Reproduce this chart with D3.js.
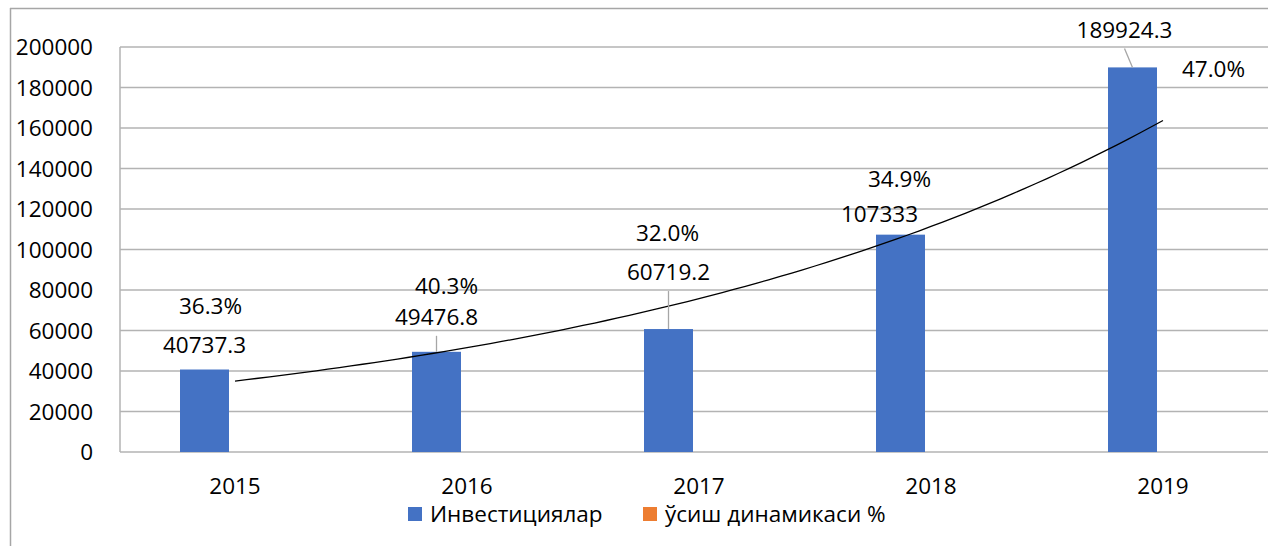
<!DOCTYPE html>
<html>
<head>
<meta charset="utf-8">
<script src="https://cdn.jsdelivr.net/npm/d3@7"></script>
<style>
  body { margin: 0; background: #fff; }
  svg { display: block; font-family: "Open Sans", "Noto Sans", sans-serif; }
  .tick-label, .cat-label, .data-label, .legend-label { font-size: 22.5px; fill: #000; }
</style>
</head>
<body>
<div id="chart"></div>
<script>
/*** DATA ***/
var years = ['2015', '2016', '2017', '2018', '2019'];
var investments = [40737.3, 49476.8, 60719.2, 107333, 189924.3];
var growthPct = [36.3, 40.3, 32.0, 34.9, 47.0];
var yTicks = [0, 20000, 40000, 60000, 80000, 100000, 120000, 140000, 160000, 180000, 200000];
var seriesNames = ['Инвестициялар', 'ўсиш динамикаси %'];
var seriesColors = ['#4472C4', '#ED7D31'];

//manual label placement (px, relative to bar top centre), as moved by hand in the original
var invLabelOffsets = [[0, -25], [0, -35], [0, -57], [-21, -21], [-8, -38]];
var pctLabelOffsets = [[6, -64], [10, -66], [-1, -96], [-1, -56], [81, 1]];

var width = 1268, height = 546;
var plot = {left: 119, right: 1279, top: 47, bottom: 452};

var svg = d3.select('#chart').append('svg')
  .attr('width', width)
  .attr('height', height);

//outer frame (only top and left edges are visible)
svg.append('line')
  .attr('x1', 10).attr('x2', width).attr('y1', 8.5).attr('y2', 8.5)
  .attr('stroke', '#a6a6a6').attr('stroke-width', 1.5);
svg.append('line')
  .attr('x1', 10.5).attr('x2', 10.5).attr('y1', 8).attr('y2', height)
  .attr('stroke', '#a6a6a6').attr('stroke-width', 1.5);

//scales
var x = d3.scaleBand()
  .domain(years)
  .range([plot.left, plot.right]);

var y = d3.scaleLinear()
  .domain([0, 200000])
  .range([plot.bottom, plot.top]);

var barWidth = 49;
//bar sits left of the category centre (second, percentage series is the invisible one)
function barX(year) { return x(year) + x.bandwidth() / 2 - 55; }
function barCenter(year) { return barX(year) + barWidth / 2; }

//gridlines
svg.append('g')
  .attr('class', 'grid')
  .selectAll('line')
  .data(yTicks)
  .join('line')
  .attr('x1', 120)
  .attr('x2', plot.right)
  .attr('y1', function(d) { return y(d); })
  .attr('y2', function(d) { return y(d); })
  .attr('stroke', '#b3b3b3')
  .attr('stroke-width', 1.5);

//value axis line
svg.append('line')
  .attr('x1', 120).attr('x2', 120)
  .attr('y1', y(200000)).attr('y2', y(0))
  .attr('stroke', '#b3b3b3').attr('stroke-width', 1.5);

//y tick labels
svg.append('g')
  .selectAll('text')
  .data(yTicks)
  .join('text')
  .attr('class', 'tick-label')
  .attr('x', 93)
  .attr('y', function(d) { return y(d); })
  .attr('dy', '0.36em')
  .attr('text-anchor', 'end')
  .text(function(d) { return d; });

//category labels
svg.append('g')
  .selectAll('text')
  .data(years)
  .join('text')
  .attr('class', 'cat-label')
  .attr('x', function(d) { return x(d) + x.bandwidth() / 2; })
  .attr('y', 486)
  .attr('dy', '0.36em')
  .attr('text-anchor', 'middle')
  .text(function(d) { return d; });

//bars
var data = years.map(function(d, i) {
  return {year: d, value: investments[i], pct: growthPct[i], invOff: invLabelOffsets[i], pctOff: pctLabelOffsets[i]};
});

svg.append('g')
  .selectAll('rect')
  .data(data)
  .join('rect')
  .attr('x', function(d) { return barX(d.year); })
  .attr('y', function(d) { return y(d.value); })
  .attr('width', barWidth)
  .attr('height', function(d) { return y(0) - y(d.value); })
  .attr('fill', seriesColors[0]);

//exponential trendline (least squares on ln values)
var n = investments.length;
var lnVals = investments.map(function(v) { return Math.log(v); });
var mx = d3.mean(d3.range(1, n + 1));
var my = d3.mean(lnVals);
var sxy = d3.sum(lnVals, function(v, i) { return (i + 1 - mx) * (v - my); });
var sxx = d3.sum(d3.range(1, n + 1), function(k) { return (k - mx) * (k - mx); });
var b = sxy / sxx;
var lnA = my - b * mx;

var trendX = d3.scaleLinear().domain([1, n]).range([x(years[0]) + x.bandwidth() / 2, x(years[n - 1]) + x.bandwidth() / 2]);
var trendPts = d3.range(1, n + 0.001, 0.05).map(function(k) { return [trendX(k), y(Math.exp(lnA + b * k))]; });

svg.append('path')
  .attr('d', d3.line()(trendPts))
  .attr('fill', 'none')
  .attr('stroke', '#000')
  .attr('stroke-width', 1.3);

//leader lines for labels that were dragged away from their bars
var leaders = [1, 2, 4];
svg.append('g')
  .selectAll('line')
  .data(leaders)
  .join('line')
  .attr('x1', function(i) { return barCenter(years[i]) + (i == 4 ? -8 : 0); })
  .attr('y1', function(i) { return y(investments[i]) + data[i].invOff[1] + 19; })
  .attr('x2', function(i) { return barCenter(years[i]); })
  .attr('y2', function(i) { return y(investments[i]); })
  .attr('stroke', '#a6a6a6')
  .attr('stroke-width', 1.3);

//investment labels
svg.append('g')
  .selectAll('text')
  .data(data)
  .join('text')
  .attr('class', 'data-label')
  .attr('x', function(d) { return barCenter(d.year) + d.invOff[0]; })
  .attr('y', function(d) { return y(d.value) + d.invOff[1]; })
  .attr('dy', '0.36em')
  .attr('text-anchor', 'middle')
  .text(function(d) { return d.value; });

//growth % labels
svg.append('g')
  .selectAll('text')
  .data(data)
  .join('text')
  .attr('class', 'data-label')
  .attr('x', function(d) { return barCenter(d.year) + d.pctOff[0]; })
  .attr('y', function(d) { return y(d.value) + d.pctOff[1]; })
  .attr('dy', '0.36em')
  .attr('text-anchor', 'middle')
  .text(function(d) { return d.pct.toFixed(1) + '%'; });

//legend
var legendX = [408, 643];
var legend = svg.append('g')
  .selectAll('g')
  .data(seriesNames)
  .join('g')
  .attr('transform', function(d, i) { return 'translate(' + legendX[i] + ',507)'; });

legend.append('rect')
  .attr('width', 14)
  .attr('height', 14)
  .attr('fill', function(d, i) { return seriesColors[i]; });

legend.append('text')
  .attr('class', 'legend-label')
  .attr('x', 22)
  .attr('y', 7)
  .attr('dy', '0.36em')
  .text(function(d) { return d; });
</script>
</body>
</html>
